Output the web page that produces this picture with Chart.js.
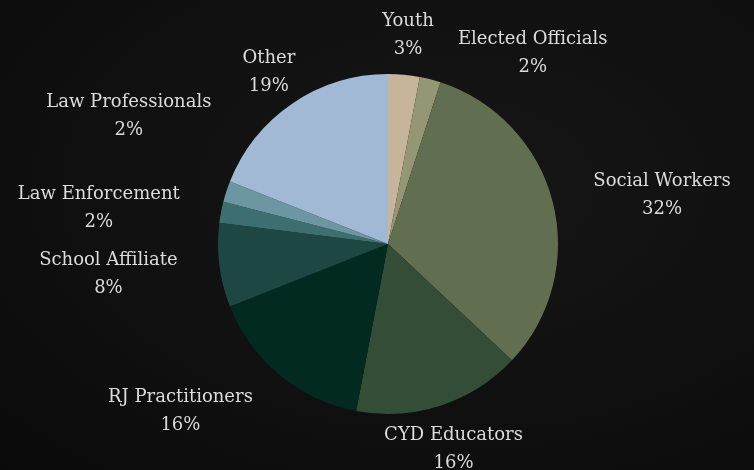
<!DOCTYPE html>
<html><head><meta charset="utf-8">
<script src="https://cdn.jsdelivr.net/npm/chart.js@4/dist/chart.umd.min.js"></script>
<style>
html,body{margin:0;padding:0;background:#101010;}
#wrap{width:754px;height:470px;position:relative;background:radial-gradient(ellipse at 60% 40%, #161616 0%, #101010 55%, #0a0a0a 100%);}
canvas{display:block;}
</style>
</head><body>
<div id="wrap"><canvas id="c" width="754" height="470"></canvas></div>
<script>
const categories = ["Youth","Elected Officials","Social Workers","CYD Educators","RJ Practitioners","School Affiliate","Law Enforcement","Law Professionals","Other"];
const shares = [3,2,32,16,16,8,2,2,19];
const sliceColors = ["#c6b59b","#959774","#616e50","#334d36","#022a20","#1e4642","#3e6f70","#6b96a2","#a1b9d4"];
// label layout tweaks (pixels) applied after geometric placement
const labelNudges = [[0,-2],[92,11],[0,0],[0,0],[0,0],[0,0],[0,0],[25,-66],[0,0]];

const LABEL_FONT = '18px "DejaVu Serif"';
const outLabels = {
  id:'outLabels',
  afterDatasetsDraw(chart){
    const ctx = chart.ctx;
    const meta = chart.getDatasetMeta(0);
    const total = shares.reduce((a,b)=>a+b,0);
    ctx.save();
    ctx.font = LABEL_FONT;
    ctx.fillStyle = '#dcdcdc';
    ctx.textBaseline = 'middle';
    ctx.textAlign = 'center';
    meta.data.forEach((arc,i)=>{
      const p = arc.getProps(['x','y','startAngle','endAngle','outerRadius'], true);
      const a = (p.startAngle + p.endAngle)/2;
      const r = p.outerRadius + 42;
      const ax = p.x + r*Math.cos(a);
      let ay = p.y + r*Math.sin(a) + 4;
      const lines = [categories[i], Math.round(shares[i]/total*100) + '%'];
      const w = Math.max(...lines.map(t=>ctx.measureText(t).width));
      const c = Math.cos(a);
      let cx = ax;
      if (c > 0.6) cx = ax + w/2; else if (c < -0.6) cx = ax - w/2;
      cx += labelNudges[i][0];
      ay += labelNudges[i][1];
      ctx.fillText(lines[0], cx, ay - 14);
      ctx.fillText(lines[1], cx, ay + 14);
    });
    ctx.restore();
  }
};

new Chart(document.getElementById('c'), {
  type: 'pie',
  data: {
    labels: categories,
    datasets: [{ data: shares, backgroundColor: sliceColors, borderWidth: 0 }]
  },
  options: {
    responsive: false,
    animation: false,
    layout: { padding: { left: 218, right: 196, top: 74, bottom: 56 } },
    plugins: { legend: { display: false }, tooltip: { enabled: false } }
  },
  plugins: [outLabels]
});
</script>
</body></html>
